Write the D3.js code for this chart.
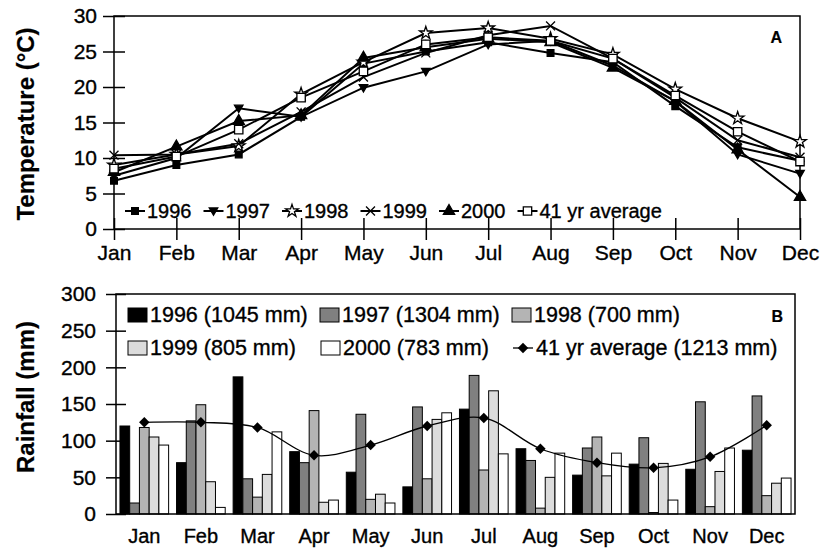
<!DOCTYPE html>
<html>
<head>
<meta charset="utf-8">
<script src="https://cdn.jsdelivr.net/npm/d3@7"></script>
<style>
  body { margin: 0; background: #fff; }
  text { font-family: "Liberation Sans", Arial, sans-serif; fill: #000; stroke: #000; stroke-width: 0.35px; }
  text.bold { stroke-width: 0.2px; }
</style>
</head>
<body>
<svg width="820" height="549"></svg>
<script>
// data
const months = ['Jan','Feb','Mar','Apr','May','Jun','Jul','Aug','Sep','Oct','Nov','Dec'];

// temperature (°C)
const temp1996 = [6.8, 9.0, 10.5, 15.8, 23.3, 25.0, 26.3, 24.8, 23.5, 17.3, 11.5, 9.6];
const temp1997 = [7.5, 10.0, 17.0, 15.8, 19.9, 22.2, 26.0, 26.5, 23.0, 18.0, 10.5, 7.8];
const temp1998 = [9.0, 10.5, 11.7, 19.0, 23.5, 27.6, 28.3, 26.8, 24.6, 19.7, 15.6, 12.3];
const temp1999 = [10.4, 10.5, 12.0, 16.5, 21.4, 24.8, 27.3, 28.6, 24.0, 18.5, 12.5, 10.1];
const temp2000 = [8.0, 11.6, 15.2, 16.0, 24.1, 25.6, 26.8, 26.3, 22.7, 18.0, 11.2, 4.5];
const tempAvg  = [8.5, 10.2, 14.0, 18.5, 22.2, 26.0, 27.0, 26.5, 24.0, 18.8, 13.7, 9.5];
const tempLabels = ['1996','1997','1998','1999','2000','41 yr average'];
const tempTicks = [0,5,10,15,20,25,30];

// rainfall (mm)
const rain1996 = [120, 70, 187, 85, 57, 37, 143, 89, 53, 68, 61, 87];
const rain1997 = [15, 127, 48, 70, 136, 146, 189, 73, 90, 104, 153, 161];
const rain1998 = [118, 149, 23, 141, 20, 48, 60, 8, 105, 2, 10, 25];
const rain1999 = [105, 44, 54, 16, 27, 129, 168, 50, 52, 69, 58, 42];
const rain2000 = [94, 9, 112, 19, 15, 138, 82, 83, 83, 19, 90, 49];
const rainAvg  = [125, 125, 118, 80, 94, 120, 131, 89, 70, 63, 78, 121];
const rainLabels = ['1996 (1045 mm)','1997 (1304 mm)','1998 (700 mm)','1999 (805 mm)','2000 (783 mm)'];
const rainAvgLabel = '41 yr average (1213 mm)';
const rainTicks = [0,50,100,150,200,250,300];

const svg = d3.select('svg');
const FONT = '"Liberation Sans", Arial, sans-serif';

// custom symbols so they work in any v7
const symX = { draw(ctx, size) { const r = Math.sqrt(size) / 2;
  ctx.moveTo(-r,-r); ctx.lineTo(r,r); ctx.moveTo(-r,r); ctx.lineTo(r,-r); } };
const triDown = { draw(ctx, size) { const r = Math.sqrt(size) / 2;
  ctx.moveTo(-r*1.1,-r*0.8); ctx.lineTo(r*1.1,-r*0.8); ctx.lineTo(0,r*1.1); ctx.closePath(); } };
const rhomb = { draw(ctx, size) { const r = Math.sqrt(size) / 2;
  ctx.moveTo(0,-r); ctx.lineTo(r,0); ctx.lineTo(0,r); ctx.lineTo(-r,0); ctx.closePath(); } };

const tempSeries = [
  {name: tempLabels[0], values: temp1996, sym: d3.symbolSquare, size: 45, fill: '#000'},
  {name: tempLabels[1], values: temp1997, sym: triDown, size: 60, fill: '#000'},
  {name: tempLabels[2], values: temp1998, sym: d3.symbolStar, size: 50, fill: '#fff'},
  {name: tempLabels[3], values: temp1999, sym: symX, size: 80, fill: 'none'},
  {name: tempLabels[4], values: temp2000, sym: d3.symbolTriangle, size: 55, fill: '#000'},
  {name: tempLabels[5], values: tempAvg, sym: d3.symbolSquare, size: 70, fill: '#fff'}
];

// ---------- chart A ----------
const xT = d3.scalePoint().domain(months).range([114, 800]);
const yT = d3.scaleLinear().domain([0, 30]).range([229, 16]);

const gA = svg.append('g');

gA.append('rect')
  .attr('x', 114).attr('y', 16)
  .attr('width', 800 - 114).attr('height', 229 - 16)
  .attr('fill', 'none').attr('stroke', '#000').attr('stroke-width', 1.5);

const yAxA = gA.append('g').attr('transform', 'translate(114,0)')
  .call(d3.axisLeft(yT).tickValues(tempTicks).tickSize(11).tickPadding(6));
yAxA.select('.domain').remove();
yAxA.selectAll('line').attr('x1', 11).attr('stroke-width', 1.5);
yAxA.selectAll('text').attr('font-size', 21).style('font-family', FONT);

const xAxA = gA.append('g').attr('transform', 'translate(0,229)')
  .call(d3.axisBottom(xT).tickSize(11).tickPadding(5));
xAxA.select('.domain').remove();
xAxA.selectAll('line').attr('y1', -11).attr('stroke-width', 1.5);
xAxA.selectAll('text').attr('font-size', 21).style('font-family', FONT);

const lineT = d3.line().x((d, i) => xT(months[i])).y(d => yT(d));

tempSeries.forEach(s => {
  gA.append('path')
    .attr('d', lineT(s.values))
    .attr('fill', 'none').attr('stroke', '#000').attr('stroke-width', 2);
});
tempSeries.forEach(s => {
  gA.selectAll(null)
    .data(s.values)
    .enter()
    .append('path')
      .attr('transform', (d, i) => `translate(${xT(months[i])},${yT(d)})`)
      .attr('d', d3.symbol().type(s.sym).size(s.size))
      .attr('fill', s.fill).attr('stroke', '#000').attr('stroke-width', 1.3);
});

// legend A
const legA = gA.selectAll('.legA')
  .data(tempSeries)
  .enter()
  .append('g')
    .attr('transform', (d, i) => `translate(${125 + i * 78.5},211)`);
legA.append('line').attr('x1', 0).attr('x2', 20)
  .attr('stroke', '#000').attr('stroke-width', 2);
legA.append('path')
  .attr('transform', 'translate(10,0)')
  .attr('d', d => d3.symbol().type(d.sym).size(d.size)())
  .attr('fill', d => d.fill).attr('stroke', '#000').attr('stroke-width', 1.3);
legA.append('text')
  .attr('x', 22).attr('y', 7)
  .attr('font-size', 20)
  .text(d => d.name);

gA.append('text')
  .attr('class', 'bold')
  .attr('x', 782).attr('y', 43)
  .attr('text-anchor', 'end')
  .attr('font-size', 16).attr('font-weight', 'bold')
  .text('A');

svg.append('text')
  .attr('class', 'bold')
  .attr('transform', 'translate(34,124) rotate(-90)')
  .attr('text-anchor', 'middle')
  .attr('font-size', 24).attr('font-weight', 'bold')
  .text('Temperature (°C)');

// ---------- chart B ----------
const rainSeries = [rain1996, rain1997, rain1998, rain1999, rain2000];
const rainFills = ['#000', '#808080', '#b4b4b4', '#dcdcdc', '#fff'];

const xB = d3.scaleBand().domain(months).range([116, 795]).paddingInner(0.14).paddingOuter(0.07);
const x1 = d3.scaleBand().domain(rainLabels).range([0, xB.bandwidth()]);
const yB = d3.scaleLinear().domain([0, 300]).range([514, 294]);

const gB = svg.append('g');

const groups = gB.selectAll('.month')
  .data(months)
  .enter()
  .append('g')
    .attr('transform', d => `translate(${xB(d)},0)`);

groups.selectAll('rect')
  .data((m, i) => rainSeries.map((s, k) => ({key: rainLabels[k], v: s[i], k})))
  .enter()
  .append('rect')
    .attr('x', d => x1(d.key))
    .attr('y', d => yB(d.v))
    .attr('width', x1.bandwidth())
    .attr('height', d => yB(0) - yB(d.v))
    .attr('fill', d => rainFills[d.k])
    .attr('stroke', '#000').attr('stroke-width', 1);

const lineB = d3.line()
  .x((d, i) => xB(months[i]) + xB.bandwidth() / 2)
  .y(d => yB(d))
  .curve(d3.curveCatmullRom);

gB.append('path')
  .attr('d', lineB(rainAvg))
  .attr('fill', 'none').attr('stroke', '#000').attr('stroke-width', 1.3);

gB.selectAll('.dia')
  .data(rainAvg)
  .enter()
  .append('path')
    .attr('transform', (d, i) => `translate(${xB(months[i]) + xB.bandwidth() / 2},${yB(d)})`)
    .attr('d', d3.symbol().type(rhomb).size(110))
    .attr('fill', '#000');

gB.append('rect')
  .attr('x', 116).attr('y', 294)
  .attr('width', 795 - 116).attr('height', 514 - 294)
  .attr('fill', 'none').attr('stroke', '#000').attr('stroke-width', 1.5);

const yAxB = gB.append('g').attr('transform', 'translate(116,0)')
  .call(d3.axisLeft(yB).tickValues(rainTicks).tickSize(10).tickPadding(10));
yAxB.select('.domain').remove();
yAxB.selectAll('line').attr('x1', 10).attr('stroke-width', 1.5);
yAxB.selectAll('text').attr('font-size', 21).style('font-family', FONT);

const xAxB = gB.append('g').attr('transform', 'translate(0,514)')
  .call(d3.axisBottom(xB).tickSize(0).tickPadding(15));
xAxB.select('.domain').remove();
xAxB.selectAll('text').attr('font-size', 20).style('font-family', FONT);

// legend B
const legPos = [[128, 308], [320, 308], [512, 308], [128, 341], [321, 341]];
const legB = gB.selectAll('.legB')
  .data(rainLabels)
  .enter()
  .append('g')
    .attr('transform', (d, i) => `translate(${legPos[i][0]},${legPos[i][1]})`);
legB.append('rect')
  .attr('width', 19).attr('height', 14)
  .attr('fill', (d, i) => rainFills[i])
  .attr('stroke', '#000').attr('stroke-width', 1);
legB.append('text')
  .attr('x', 22).attr('y', 14)
  .attr('font-size', 21.5)
  .text(d => d);

const legAvg = gB.append('g').attr('transform', 'translate(513,348)');
legAvg.append('line').attr('x1', 0).attr('x2', 20).attr('stroke', '#000').attr('stroke-width', 1.3);
legAvg.append('path').attr('transform', 'translate(10,0)')
  .attr('d', d3.symbol().type(rhomb).size(110)).attr('fill', '#000');
legAvg.append('text')
  .attr('x', 23).attr('y', 7)
  .attr('font-size', 21.5)
  .text(rainAvgLabel);

gB.append('text')
  .attr('class', 'bold')
  .attr('x', 783).attr('y', 322)
  .attr('text-anchor', 'end')
  .attr('font-size', 16).attr('font-weight', 'bold')
  .text('B');

svg.append('text')
  .attr('class', 'bold')
  .attr('transform', 'translate(34,397) rotate(-90)')
  .attr('text-anchor', 'middle')
  .attr('font-size', 24).attr('font-weight', 'bold')
  .text('Rainfall (mm)');
</script>
</body>
</html>
